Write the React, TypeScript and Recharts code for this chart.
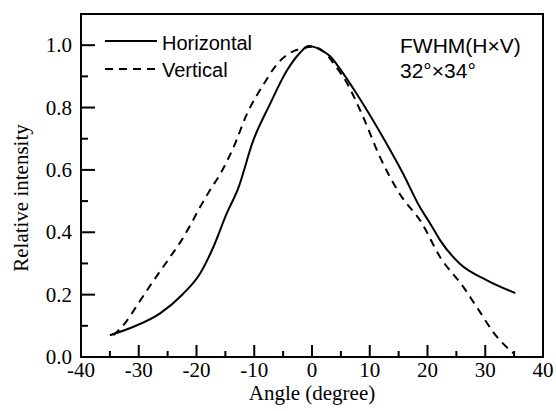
import { Legend, Line, LineChart, ReferenceArea, XAxis, YAxis } from "recharts";

// horizontal far-field profile (solid)
const hAngle = [-35, -30.9, -26.3, -22.3, -19.4, -17.1, -14.8, -12.8, -10.2, -7.3, -4.4, -2.1, -0.6, 1.4, 3.1, 5, 7.7, 12.3, 15.8, 18.7, 20.4, 22.2, 25.6, 30.3, 35.2];
const hIntensity = [0.07, 0.097, 0.14, 0.203, 0.267, 0.352, 0.459, 0.54, 0.693, 0.81, 0.917, 0.975, 0.997, 0.986, 0.965, 0.92, 0.845, 0.704, 0.587, 0.48, 0.43, 0.374, 0.299, 0.246, 0.205];

// vertical far-field profile (dashed)
const vAngle = [-34.4, -32.4, -30.1, -27.8, -24.6, -22.6, -20.8, -19.4, -17.7, -15.9, -13.6, -11.3, -8.4, -6.1, -3.2, -1.6, 0, 2, 4, 6, 8.9, 11.8, 15.2, 19, 22.2, 26.2, 28.5, 32, 34.9];
const vIntensity = [0.07, 0.108, 0.171, 0.235, 0.32, 0.374, 0.432, 0.48, 0.534, 0.587, 0.672, 0.778, 0.874, 0.938, 0.981, 0.99, 0.995, 0.98, 0.935, 0.88, 0.768, 0.64, 0.523, 0.43, 0.32, 0.225, 0.161, 0.065, 0.012];

const xTicks = [-40, -35, -30, -25, -20, -15, -10, -5, 0, 5, 10, 15, 20, 25, 30, 35, 40];
const yTicks = [0, 0.1, 0.2, 0.3, 0.4, 0.5, 0.6, 0.7, 0.8, 0.9, 1.0];

const hData = hAngle.map((x, i) => ({ x, y: hIntensity[i] }));
const vData = vAngle.map((x, i) => ({ x, y: vIntensity[i] }));

const serif = "'Liberation Serif', 'Times New Roman', serif";
const sans = "'Liberation Sans', Arial, sans-serif";

const XTick = ({ x, y, payload }: any) => {
  const major = payload.value % 10 === 0;
  return (
    <g>
      <line x1={x} y1={y} x2={x} y2={y - (major ? 12 : 6)} stroke="#000" strokeWidth={2} />
      {major && (
        <text x={x} y={y + 20} textAnchor="middle" fontFamily={serif} fontSize={21} fill="#000">
          {payload.value}
        </text>
      )}
    </g>
  );
};

const YTick = ({ x, y, payload }: any) => {
  const major = Math.round(payload.value * 10) % 2 === 0;
  return (
    <g>
      <line x1={x} y1={y} x2={x + (major ? 14 : 7)} y2={y} stroke="#000" strokeWidth={2} />
      {major && (
        <text x={x - 9} y={y + 7} textAnchor="end" fontFamily={serif} fontSize={21} fill="#000">
          {payload.value.toFixed(1)}
        </text>
      )}
    </g>
  );
};

const LegendBox = () => (
  <svg width={556} height={90}>
    <line x1={105} y1={41} x2={157} y2={41} stroke="#000" strokeWidth={2} />
    <text x={162} y={50} fontFamily={sans} fontSize={20} fill="#000">Horizontal</text>
    <line x1={105} y1={69} x2={157} y2={69} stroke="#000" strokeWidth={2} strokeDasharray="8 6" />
    <text x={162} y={77} fontFamily={sans} fontSize={20} fill="#000">Vertical</text>
    <text x={400} y={53} fontFamily={sans} fontSize={21} fill="#000">FWHM(H×V)</text>
    <text x={400} y={78} fontFamily={sans} fontSize={21} fill="#000">32°×34°</text>
  </svg>
);

export default function App() {
  return (
    <div style={{ position: "absolute", left: 0, top: 0, width: 556, height: 411, background: "#fff" }}>
      <LineChart width={556} height={411} margin={{ top: 14, right: 13, left: 21, bottom: 0 }}>
        <XAxis
          type="number"
          dataKey="x"
          domain={[-40, 40]}
          ticks={xTicks}
          interval={0}
          height={54}
          tickSize={0}
          tickMargin={0}
          tickLine={false}
          tick={<XTick />}
          axisLine={{ stroke: "#000", strokeWidth: 2 }}
          allowDuplicatedCategory={false}
          label={() => (
            <text x={312} y={400} textAnchor="middle" fontFamily={serif} fontSize={21} fill="#000">
              Angle (degree)
            </text>
          )}
        />
        <YAxis
          type="number"
          dataKey="y"
          domain={[0, 1.1]}
          ticks={yTicks}
          interval={0}
          width={60}
          tickSize={0}
          tickMargin={0}
          tickLine={false}
          tick={<YTick />}
          axisLine={{ stroke: "#000", strokeWidth: 2 }}
          label={() => (
            <text
              x={28}
              y={198}
              textAnchor="middle"
              transform="rotate(-90 28 198)"
              fontFamily={serif}
              fontSize={21}
              fill="#000"
            >
              Relative intensity
            </text>
          )}
        />
        <ReferenceArea x1={-40} x2={40} y1={0} y2={1.1} fill="none" stroke="#000" strokeWidth={2} ifOverflow="visible" />
        <Legend
          layout="vertical"
          align="center"
          verticalAlign="middle"
          wrapperStyle={{ position: "absolute", top: 0, left: 0, width: 556, height: 90 }}
          content={() => <LegendBox />}
        />
        <Line
          data={hData}
          dataKey="y"
          name="Horizontal"
          type="monotone"
          stroke="#000"
          strokeWidth={2}
          dot={false}
          isAnimationActive={false}
        />
        <Line
          data={vData}
          dataKey="y"
          name="Vertical"
          type="monotone"
          stroke="#000"
          strokeWidth={2}
          strokeDasharray="8 6"
          dot={false}
          isAnimationActive={false}
        />
      </LineChart>
    </div>
  );
}
